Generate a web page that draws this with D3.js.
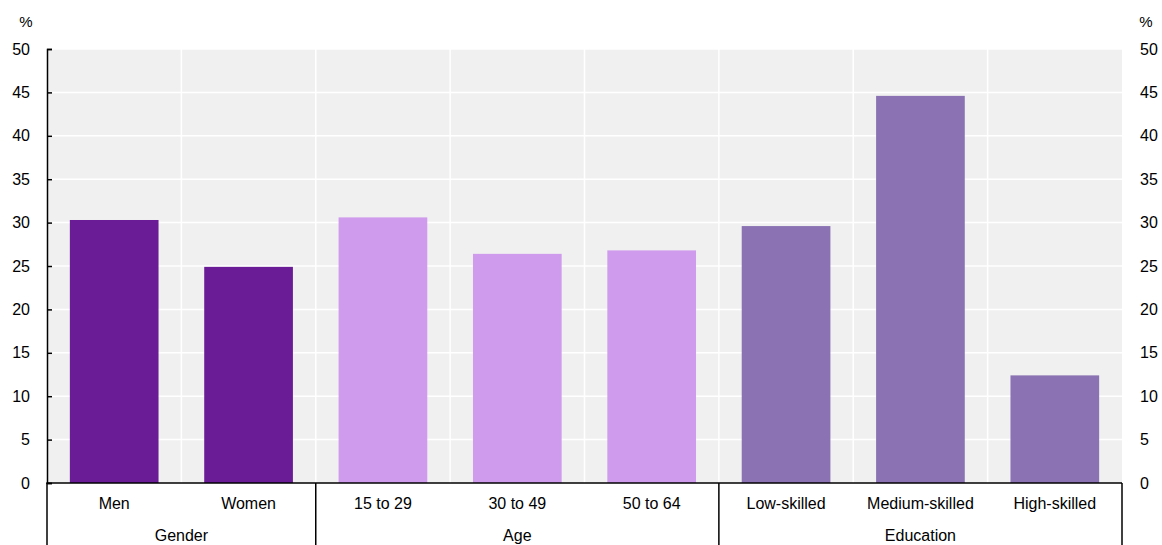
<html>
<head>
<script src="https://cdn.jsdelivr.net/npm/d3@7"></script>
<style>
  body { margin: 0; background: #fff; }
  text { font-family: "Liberation Sans", Arial, sans-serif; fill: #000; }
</style>
</head>
<body>
<script>

var categories = ['Men', 'Women', '15 to 29', '30 to 49', '50 to 64', 'Low-skilled', 'Medium-skilled', 'High-skilled'];
var groups = ['Gender', 'Gender', 'Age', 'Age', 'Age', 'Education', 'Education', 'Education'];
var values = [30.3, 24.9, 30.6, 26.4, 26.8, 29.6, 44.6, 12.4];
var groupColors = {'Gender': '#6a1b96', 'Age': '#cf9bec', 'Education': '#8b73b3'};
var yTicks = [0, 5, 10, 15, 20, 25, 30, 35, 40, 45, 50];

var width = 1162;
var height = 545;
var mLeft = 47, mRight = 1122, mTop = 49, mBottom = 483;

var svg = d3.select('body').append('svg')
  .attr('width', width)
  .attr('height', height);

var x = d3.scaleBand()
  .domain(categories)
  .range([mLeft, mRight])
  .paddingInner(0.34)
  .paddingOuter(0.17);

var xBand = d3.scaleBand()
  .domain(categories)
  .range([mLeft, mRight]);

var y = d3.scaleLinear()
  .domain([0, 50])
  .range([mBottom, mTop]);

svg.append('rect')
  .attr('x', mLeft)
  .attr('y', mTop)
  .attr('width', mRight - mLeft)
  .attr('height', mBottom - mTop)
  .style('fill', '#f0f0f0');

// horizontal grid
svg.append('g').selectAll('line')
  .data(yTicks.filter(function(d){ return d > 0; }))
  .enter().append('line')
  .attr('x1', mLeft).attr('x2', mRight)
  .attr('y1', function(d){ return y(d); })
  .attr('y2', function(d){ return y(d); })
  .style('stroke', '#fff')
  .style('stroke-width', 1.5);

// vertical grid between bands
svg.append('g').selectAll('line')
  .data(categories.slice(1))
  .enter().append('line')
  .attr('x1', function(d){ return xBand(d); })
  .attr('x2', function(d){ return xBand(d); })
  .attr('y1', mTop).attr('y2', mBottom)
  .style('stroke', '#fff')
  .style('stroke-width', 1.5);

svg.append('g').selectAll('rect')
  .data(values)
  .enter().append('rect')
  .attr('x', function(d, i){ return x(categories[i]); })
  .attr('width', x.bandwidth())
  .attr('y', function(d){ return y(d); })
  .attr('height', function(d){ return y(0) - y(d); })
  .style('fill', function(d, i){ return groupColors[groups[i]]; });

// left axis
var yAxisL = svg.append('g')
  .attr('transform', 'translate(' + mLeft + ',0)')
  .call(d3.axisLeft(y).tickValues(yTicks).tickSizeInner(-5).tickSizeOuter(-5).tickPadding(17));
yAxisL.select('.domain').style('stroke', '#000').style('stroke-width', 1.5);
yAxisL.selectAll('.tick line').style('stroke', '#000').style('stroke-width', 1.5);
yAxisL.selectAll('text').style('font-size', '16px').style('font-family', '"Liberation Sans", Arial, sans-serif').style('fill', '#000');

var yAxisR = svg.append('g')
  .attr('transform', 'translate(' + mRight + ',0)')
  .call(d3.axisRight(y).tickValues(yTicks).tickSize(0).tickPadding(18));
yAxisR.select('.domain').remove();
yAxisR.selectAll('text').style('font-size', '16px').style('font-family', '"Liberation Sans", Arial, sans-serif').style('fill', '#000');

svg.append('text').attr('x', 26).attr('y', 27).attr('text-anchor', 'middle')
  .style('font-size', '15px').text('%');
svg.append('text').attr('x', 1146).attr('y', 27).attr('text-anchor', 'middle')
  .style('font-size', '15px').text('%');

// bottom axis
svg.append('line')
  .attr('x1', mLeft - 0.75).attr('x2', mRight)
  .attr('y1', mBottom).attr('y2', mBottom)
  .style('stroke', '#000').style('stroke-width', 1.5);

svg.append('g').selectAll('text')
  .data(categories)
  .enter().append('text')
  .attr('x', function(d){ return xBand(d) + xBand.bandwidth() / 2; })
  .attr('y', 509)
  .attr('text-anchor', 'middle')
  .style('font-size', '16px')
  .text(function(d){ return d; });

var groupNames = ['Gender', 'Age', 'Education'];
var groupSpans = groupNames.map(function(g){
  var cats = categories.filter(function(c, i){ return groups[i] === g; });
  return {name: g, x0: xBand(cats[0]), x1: xBand(cats[cats.length - 1]) + xBand.bandwidth()};
});

svg.append('g').selectAll('line')
  .data([mLeft].concat(groupSpans.map(function(s){ return s.x1; })))
  .enter().append('line')
  .attr('x1', function(d){ return d; }).attr('x2', function(d){ return d; })
  .attr('y1', mBottom).attr('y2', height)
  .style('stroke', '#000').style('stroke-width', 1.5);

svg.append('g').selectAll('text')
  .data(groupSpans)
  .enter().append('text')
  .attr('x', function(d){ return (d.x0 + d.x1) / 2; })
  .attr('y', 541)
  .attr('text-anchor', 'middle')
  .style('font-size', '16px')
  .text(function(d){ return d.name; });

</script>
</body>
</html>
